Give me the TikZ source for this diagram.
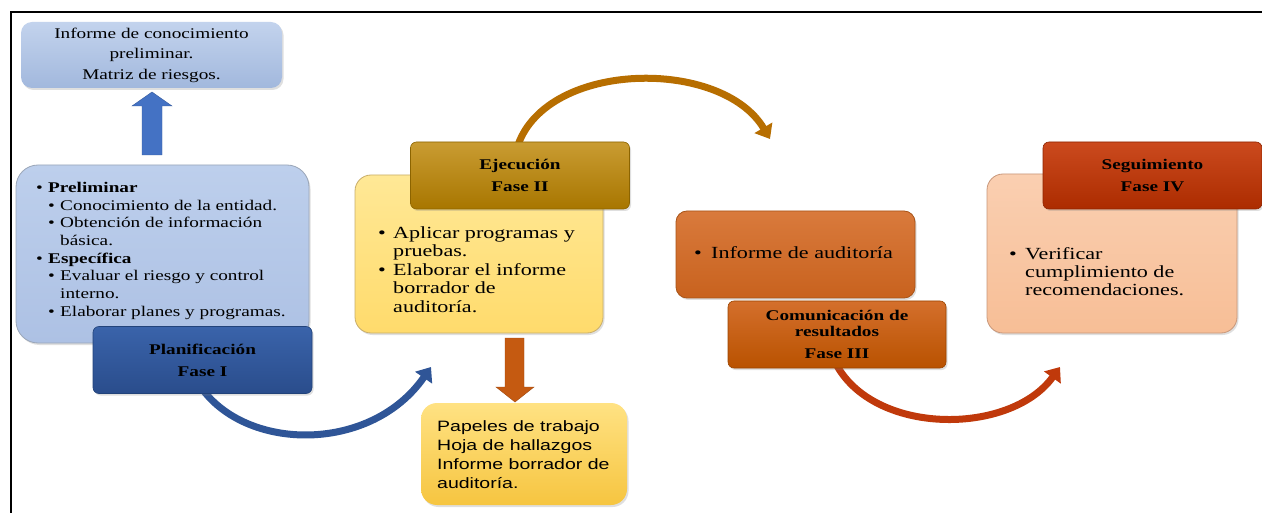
\documentclass[tikz,border=0pt]{standalone}
\usepackage{fontspec}
\setmainfont{Liberation Serif}[FakeStretch=1.3]
\newfontfamily\papfont{Liberation Sans}[FakeStretch=1.3]
\usetikzlibrary{arrows.meta,shadows}
\definecolor{frameC}{HTML}{000000}
\definecolor{topT}{HTML}{C3D3ED}
\definecolor{topB}{HTML}{A2B8DD}
\definecolor{blueT}{HTML}{BDCFEC}
\definecolor{blueB}{HTML}{ADC1E4}
\definecolor{blueD}{HTML}{9AA6B8}
\definecolor{planT}{HTML}{3A63AA}
\definecolor{planB}{HTML}{2A4D8C}
\definecolor{planD}{HTML}{22437A}
\definecolor{arcBlue}{HTML}{2F5597}
\definecolor{upArrow}{HTML}{4472C4}
\definecolor{yelT}{HTML}{FFE896}
\definecolor{yelB}{HTML}{FFDB6C}
\definecolor{yelD}{HTML}{C9AE6A}
\definecolor{ejeT}{HTML}{C99C32}
\definecolor{ejeB}{HTML}{A87600}
\definecolor{ejeD}{HTML}{8C6400}
\definecolor{arcBrown}{HTML}{B76E00}
\definecolor{downArrow}{HTML}{C55A11}
\definecolor{downD}{HTML}{A04A10}
\definecolor{papT}{HTML}{FFE283}
\definecolor{papB}{HTML}{F6C540}
\definecolor{oraT}{HTML}{D97A3C}
\definecolor{oraB}{HTML}{C8621E}
\definecolor{oraD}{HTML}{A85418}
\definecolor{comT}{HTML}{D46F2C}
\definecolor{comB}{HTML}{B95200}
\definecolor{comD}{HTML}{9A4400}
\definecolor{arcRed}{HTML}{C0390B}
\definecolor{peaT}{HTML}{FACFB1}
\definecolor{peaB}{HTML}{F7BE96}
\definecolor{peaD}{HTML}{C8977A}
\definecolor{segT}{HTML}{CB4A1E}
\definecolor{segB}{HTML}{AC2C00}
\definecolor{segD}{HTML}{8E2400}
\begin{document}
\begin{tikzpicture}[x=1pt,y=-1pt,
  panel/.style={inner sep=0pt, drop shadow={shadow xshift=1.5pt, shadow yshift=-2pt, opacity=0.25}},
  phase/.style={panel, rounded corners=6pt, line width=0.6pt, font=\bfseries\fontsize{14.8}{16}\selectfont, align=center, text=black},
  txt/.style={inner sep=0pt, align=left, anchor=north west, text=black},
  arc/.style={line width=7pt, -{Triangle[width=20pt,length=13pt]}},
  blockarrow/.style={line width=0.4pt}
]
\useasboundingbox (0,0) rectangle (1262,513);
\fill[white] (0,0) rectangle (1262,513);
\draw[line width=2pt, frameC] (11,513) -- (11,12) -- (1262,12);

% curved arrows (drawn first, start hidden under boxes)
\coordinate (a1s) at (203,390);
\coordinate (a1e) at (431,367);
\coordinate (a2s) at (518,145);
\coordinate (a2e) at (770,139);
\coordinate (a3s) at (835,362);
\coordinate (a3e) at (1060,367);
\draw[arc, arcBlue] (a1s) .. controls (250,452) and (372,452) .. (a1e);
\draw[arc, arcBrown] (a2s) .. controls (548,60) and (722,58) .. (a2e);
\draw[arc, arcRed] (a3s) .. controls (872,436) and (1010,436) .. (a3e);

% Phase I
\node[panel, rounded corners=11pt, top color=topT, bottom color=topB, minimum width=261pt, minimum height=66pt,
  align=center, font=\fontsize{14.8}{20.5}\selectfont] (res1) at (151.5,55) {Informe de conocimiento\\preliminar.\\Matriz de riesgos.};
\node[panel, rounded corners=22pt, top color=blueT, bottom color=blueB, draw=blueD, line width=0.8pt,
  minimum width=293pt, minimum height=178pt] (b1) at (162.5,254) {};
\node[txt, font=\fontsize{14.8}{17.7}\selectfont] (t1) at (36,182) {%
\makebox[12pt][l]{\textbullet}\textbf{Preliminar}\\
\hspace*{12pt}\makebox[12pt][l]{\textbullet}Conocimiento de la entidad.\\
\hspace*{12pt}\makebox[12pt][l]{\textbullet}Obtención de información\\
\hspace*{24pt}básica.\\
\makebox[12pt][l]{\textbullet}\textbf{Específica}\\
\hspace*{12pt}\makebox[12pt][l]{\textbullet}Evaluar el riesgo y control\\
\hspace*{24pt}interno.\\
\hspace*{12pt}\makebox[12pt][l]{\textbullet}Elaborar planes y programas.};
\node[phase, top color=planT, bottom color=planB, draw=planD, minimum width=219pt, minimum height=67pt] (p1) at (202.5,360) {Planificación\\[6pt]Fase I};
\fill[upArrow, draw=upArrow!80!black, blockarrow] (142,155) -- (142,106) -- (132,106) -- (152,92) -- (172,106) -- (162,106) -- (162,155) -- cycle;

% Phase II
\node[panel, rounded corners=16pt, top color=yelT, bottom color=yelB, draw=yelD, line width=0.8pt,
  minimum width=248pt, minimum height=158pt] (b2) at (479,254) {};
\node[txt, font=\fontsize{17}{18.5}\selectfont] (t2) at (378,226.5) {%
\makebox[15pt][l]{\textbullet}Aplicar programas y\\
\hspace*{15pt}pruebas.\\
\makebox[15pt][l]{\textbullet}Elaborar el informe\\
\hspace*{15pt}borrador de\\
\hspace*{15pt}auditoría.};
\node[phase, top color=ejeT, bottom color=ejeB, draw=ejeD, minimum width=219pt, minimum height=67pt] (p2) at (520,175.5) {Ejecución\\[6pt]Fase II};
\fill[downArrow, draw=downD, blockarrow] (505,338) -- (524,338) -- (524,387) -- (534,387) -- (515,402) -- (496,387) -- (505,387) -- cycle;
\node[panel, rounded corners=16pt, top color=papT, bottom color=papB, minimum width=206pt, minimum height=102pt] (r2) at (524,454) {};
\node[txt, font=\papfont\fontsize{15}{19}\selectfont] (t2b) at (437,420) {Papeles de trabajo\\Hoja de hallazgos\\Informe borrador de\\auditoría.};

% Phase III
\node[panel, rounded corners=11pt, top color=oraT, bottom color=oraB, draw=oraD, line width=0.8pt,
  minimum width=239pt, minimum height=87pt] (b3) at (795.5,254.5) {};
\node[txt, font=\fontsize{17}{18.5}\selectfont] (t3) at (694,246.5) {\makebox[17pt][l]{\textbullet}Informe de auditoría};
\node[phase, top color=comT, bottom color=comB, draw=comD, minimum width=218pt, minimum height=67pt] (p3) at (837,334.5) {Comunicación de\\resultados\\[6pt]Fase III};

% Phase IV
\node[panel, rounded corners=16pt, top color=peaT, bottom color=peaB, draw=peaD, line width=0.8pt,
  minimum width=250pt, minimum height=159pt] (b4) at (1112,253.5) {};
\node[txt, font=\fontsize{17}{18}\selectfont] (t4) at (1009,247.5) {%
\makebox[16pt][l]{\textbullet}Verificar\\
\hspace*{16pt}cumplimiento de\\
\hspace*{16pt}recomendaciones.};
\node[phase, top color=segT, bottom color=segB, draw=segD, minimum width=219pt, minimum height=67pt] (p4) at (1152.5,175.5) {Seguimiento\\[6pt]Fase IV};
\end{tikzpicture}
\end{document}
